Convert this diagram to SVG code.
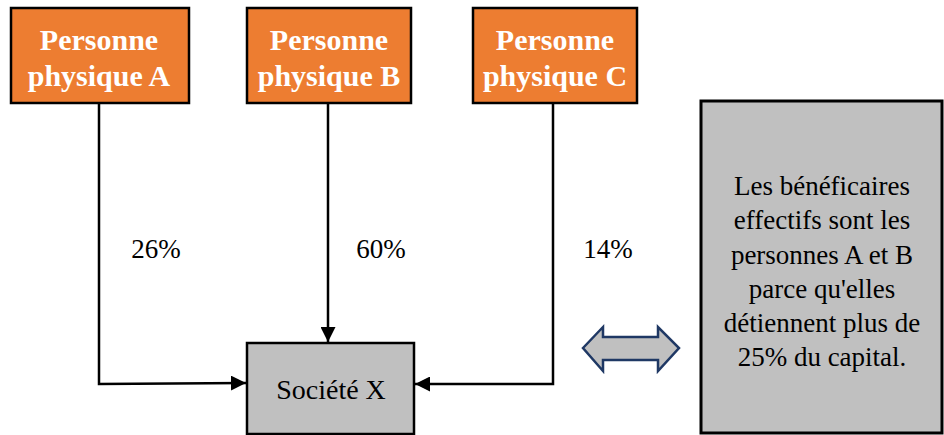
<svg xmlns="http://www.w3.org/2000/svg" width="944" height="435" viewBox="0 0 944 435">
<style>
.p{fill:#ed7d31;stroke:#000;stroke-width:2.5}
.pt{font-weight:bold;font-size:30px;fill:#fff;text-anchor:middle}
.c{stroke:#000;stroke-width:2.5;fill:none}
.t{font-size:27px;fill:#000;text-anchor:middle}
</style>
<defs>
<marker id="ah" viewBox="0 0 10 10" refX="10" refY="5" markerWidth="6" markerHeight="6" markerUnits="strokeWidth" orient="auto"><path d="M0,0L10,5L0,10z" fill="#000"/></marker>
</defs>
<g font-family="'Liberation Serif', 'Times New Roman', serif">
<g id="nodeA"><rect class="p" x="11" y="8" width="178" height="95"/><text class="pt" x="99" y="50">Personne</text><text class="pt" x="99" y="86">physique A</text></g>
<g id="nodeB"><rect class="p" x="247" y="8" width="164" height="95"/><text class="pt" x="329" y="50">Personne</text><text class="pt" x="329" y="86">physique B</text></g>
<g id="nodeC"><rect class="p" x="473" y="8" width="164" height="95"/><text class="pt" x="555" y="50">Personne</text><text class="pt" x="555" y="86">physique C</text></g>
<g id="societe"><rect x="247" y="343" width="167" height="91" fill="#c0c0c0" stroke="#000" stroke-width="2.5"/><text class="t" x="331" y="399" style="font-size:28px">Société X</text></g>
<g id="note"><rect x="701" y="101" width="241" height="332" fill="#c0c0c0" stroke="#000" stroke-width="3"/>
<text class="t" x="822" y="195">Les bénéficaires</text>
<text class="t" x="822" y="229">effectifs sont les</text>
<text class="t" x="822" y="264">personnes A et B</text>
<text class="t" x="822" y="298">parce qu'elles</text>
<text class="t" x="822" y="332">détiennent plus de</text>
<text class="t" x="822" y="366">25% du capital.</text></g>
<g id="dblarrow"><path d="M583,348L603,327L603,337L658,337L658,327L679,348L658,371L658,360L603,360L603,371Z" fill="#c0c0c0" stroke="#1f3864" stroke-width="2.5" stroke-linejoin="miter"/></g>
<g id="connectors">
<polyline class="c" points="99,103 99,384 246,383" marker-end="url(#ah)"/>
<line class="c" x1="328" y1="103" x2="328" y2="342" marker-end="url(#ah)"/>
<polyline class="c" points="553,103 553,384 415,384" marker-end="url(#ah)"/>
<text class="t" x="156" y="258">26%</text>
<text class="t" x="381" y="258">60%</text>
<text class="t" x="608" y="258">14%</text>
</g>
</g>
</svg>
